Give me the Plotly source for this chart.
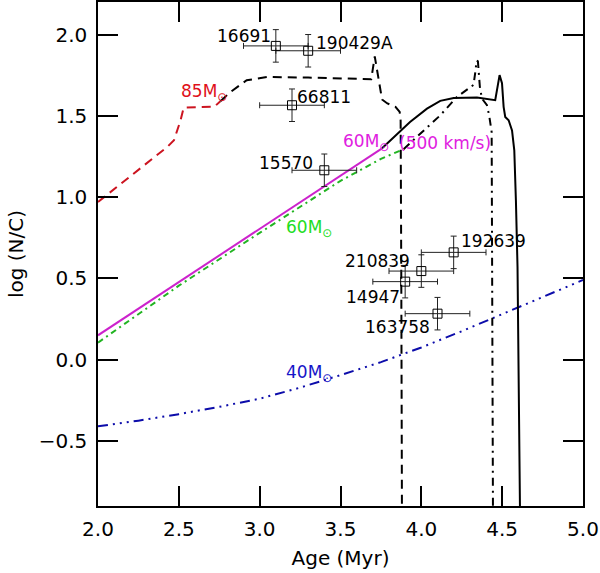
import plotly.graph_objects as go

# ---------------- data ----------------
# observed stars
star_names = ["16691", "190429A", "66811", "15570", "192639", "210839", "14947", "163758"]
star_age = [3.1, 3.3, 3.2, 3.4, 4.2, 4.0, 3.9, 4.1]
star_logNC = [1.93, 1.90, 1.565, 1.165, 0.66, 0.545, 0.48, 0.283]
star_age_err = [0.2, 0.2, 0.2, 0.2, 0.2, 0.2, 0.2, 0.2]
star_logNC_err = [0.1, 0.1, 0.1, 0.1, 0.1, 0.1, 0.1, 0.1]

# 85 Msun track (red part, then black dashed part)
m85_red_age = [2.00, 2.09, 2.43, 2.47, 2.49, 2.51, 2.53, 2.72, 2.757]
m85_red_logNC = [0.97, 1.04, 1.31, 1.35, 1.41, 1.47, 1.55, 1.556, 1.59]
m85_blk_age = [2.757, 2.82, 2.92, 3.05, 3.30, 3.62, 3.69, 3.712, 3.735, 3.757, 3.79, 3.84, 3.866, 3.872, 3.876, 3.88]
m85_blk_logNC = [1.59, 1.647, 1.719, 1.739, 1.735, 1.723, 1.725, 1.865, 1.73, 1.60, 1.576, 1.555, 1.524, 1.47, 0.5, -0.9]

# 60 Msun, 500 km/s (magenta part, then black solid part)
m60r_mag_age = [2.0, 2.5, 3.0, 3.5, 3.757]
m60r_mag_logNC = [0.15, 0.478, 0.805, 1.133, 1.30]
m60r_blk_age = [3.757, 3.83, 3.93, 4.035, 4.117, 4.20, 4.344, 4.457, 4.468, 4.484, 4.499,
                4.509, 4.519, 4.54, 4.561, 4.575, 4.585, 4.595, 4.61]
m60r_blk_logNC = [1.30, 1.37, 1.462, 1.544, 1.592, 1.61, 1.612, 1.596, 1.657, 1.75, 1.70,
                  1.555, 1.493, 1.473, 1.41, 1.288, 0.98, 0.57, -0.9]

# 60 Msun (green part, then black dash-dot part)
m60_grn_age = [2.0, 2.5, 3.0, 3.5, 3.75, 3.89]
m60_grn_logNC = [0.105, 0.455, 0.78, 1.10, 1.235, 1.295]
m60_blk_age = [3.89, 4.014, 4.117, 4.22, 4.323, 4.334, 4.342, 4.35, 4.356, 4.362, 4.375,
               4.406, 4.42, 4.435, 4.443]
m60_blk_logNC = [1.295, 1.41, 1.503, 1.616, 1.69, 1.77, 1.84, 1.835, 1.76, 1.678, 1.606,
                 1.565, 1.50, 1.40, -0.9]

# 40 Msun track
m40_age = [2.0, 2.25, 2.5, 2.75, 3.0, 3.25, 3.5, 3.75, 4.0, 4.25, 4.5, 4.75, 5.0]
m40_logNC = [-0.41, -0.375, -0.335, -0.29, -0.24, -0.172, -0.095, -0.015, 0.075, 0.175, 0.28, 0.385, 0.49]

x_ticks = [2.0, 2.5, 3.0, 3.5, 4.0, 4.5, 5.0]
y_ticks = [-0.5, 0.0, 0.5, 1.0, 1.5, 2.0]

# ---------------- styles / label placement ----------------
FONT = "DejaVu Sans"
star_label_pos = {  # (x, y, xanchor)
    "16691": (3.08, 1.99, "right"),
    "190429A": (3.335, 1.95, "left"),
    "66811": (3.22, 1.615, "left"),
    "15570": (3.345, 1.211, "right"),
    "192639": (4.23, 0.729, "left"),
    "210839": (3.942, 0.61, "right"),
    "14947": (3.88, 0.384, "right"),
    "163758": (4.066, 0.199, "right"),
}

fig = go.Figure()

def line(x, y, color, dash, width=2):
    fig.add_trace(go.Scatter(x=x, y=y, mode="lines", showlegend=False, hoverinfo="skip",
                             line=dict(color=color, dash=dash, width=width)))

DASH = "9px,6px"
DASHDOT = "8px,5px,2px,5px"
DASHDOTDOT = "10px,5px,2px,5px,2px,5px,2px,5px"

line(m40_age, m40_logNC, "#0c0caa", DASHDOTDOT)
line(m85_red_age, m85_red_logNC, "#cc1420", DASH)
line(m85_blk_age, m85_blk_logNC, "black", DASH)
line(m60_grn_age, m60_grn_logNC, "#22b422", "6px,4px,2px,4px")
line(m60_blk_age, m60_blk_logNC, "black", DASHDOT)
line(m60r_mag_age, m60r_mag_logNC, "#cc22cc", "solid")
line(m60r_blk_age, m60r_blk_logNC, "black", "solid")

fig.add_trace(go.Scatter(
    x=star_age, y=star_logNC, mode="markers", showlegend=False, hoverinfo="x+y",
    marker=dict(symbol="square-open", size=9, color="black", line=dict(width=1, color="black")),
    error_x=dict(type="data", array=star_age_err, thickness=1, width=3, color="#222222"),
    error_y=dict(type="data", array=star_logNC_err, thickness=1, width=3, color="#222222"),
))

annotations = []
for name in star_names:
    x, y, xa = star_label_pos[name]
    annotations.append(dict(x=x, y=y, xref="x", yref="y", text=name, showarrow=False,
                            xanchor=xa, yanchor="middle",
                            font=dict(family=FONT, size=17, color="black")))

model_labels = [
    ("85M<sub>⊙</sub>", 2.50, 1.642, "#e0101a"),
    ("60M<sub>⊙</sub>", 3.50, 1.334, "#e020e0"),
    ("(500 km/s)", 3.849, 1.334, "#e020e0"),
    ("60M<sub>⊙</sub>", 3.148, 0.809, "#22dd22"),
    ("40M<sub>⊙</sub>", 3.148, -0.083, "#1515c8"),
]
for t, x, y, c in model_labels:
    annotations.append(dict(x=x, y=y, xref="x", yref="y", text=t, showarrow=False,
                            xanchor="left", yanchor="middle",
                            font=dict(family=FONT, size=17, color=c)))

axis_common = dict(showline=True, linecolor="black", linewidth=1.5, mirror="ticks",
                   ticks="inside", ticklen=20, tickwidth=1.5, tickcolor="black",
                   showgrid=False, zeroline=False, tickformat=".1f", automargin=False,
                   tickfont=dict(family=FONT, size=20, color="black"))

fig.update_layout(
    width=600, height=573,
    margin=dict(l=98, r=17, t=2, b=67, autoexpand=False),
    paper_bgcolor="white", plot_bgcolor="white",
    font=dict(family=FONT, color="black"),
    annotations=annotations,
    xaxis=dict(range=[2.0, 5.0], tickvals=x_ticks, ticklabelstandoff=4,
               title=dict(text="Age (Myr)", font=dict(family=FONT, size=20), standoff=11),
               **axis_common),
    yaxis=dict(range=[-0.9, 2.2], tickvals=y_ticks, ticklabelstandoff=5,
               title=dict(text="log (N/C)", font=dict(family=FONT, size=20), standoff=10),
               **axis_common),
)

fig.write_html("out.html", config={"displayModeBar": False},
               post_script="document.body.style.margin='0';document.body.style.overflow='hidden';")
